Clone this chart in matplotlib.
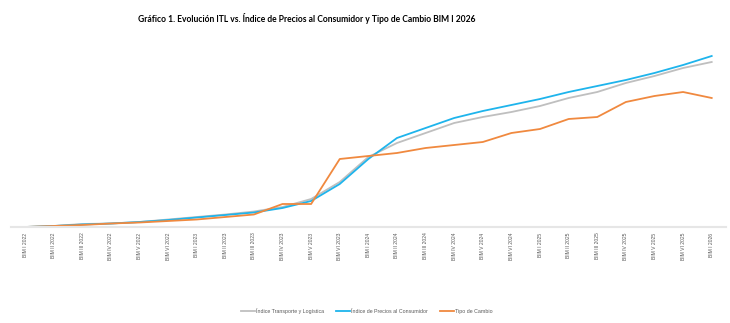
import matplotlib
matplotlib.use("Agg")
import matplotlib.pyplot as plt

categories = ["BIM I 2022", "BIM II 2022", "BIM III 2022", "BIM IV 2022", "BIM V 2022", "BIM VI 2022",
              "BIM I 2023", "BIM II 2023", "BIM III 2023", "BIM IV 2023", "BIM V 2023", "BIM VI 2023",
              "BIM I 2024", "BIM II 2024", "BIM III 2024", "BIM IV 2024", "BIM V 2024", "BIM VI 2024",
              "BIM I 2025", "BIM II 2025", "BIM III 2025", "BIM IV 2025", "BIM V 2025", "BIM VI 2025",
              "BIM I 2026"]

itl = [0, 1, 3, 3.5, 5, 7.5, 10, 12.5, 15.5, 20, 28, 45, 70, 84, 94, 104, 110, 115, 121, 129, 135, 144, 151, 159, 165]
ipc = [0, 1, 2.5, 3.5, 5, 7, 9.5, 12, 14.5, 19, 26, 43, 68, 89, 99, 109, 116, 122, 128, 135, 141, 147, 154, 162, 171]
tc = [0, 1, 2, 3.5, 4.5, 6, 7.5, 10, 12.5, 23, 23, 68, 71, 74, 79, 82, 85, 94, 98, 108, 110, 125, 131, 135, 129]

title = "Gráfico 1. Evolución ITL vs. Índice de Precios al Consumidor y Tipo de Cambio BIM I 2026"
series_labels = ["Índice Transporte y Logística", "Índice de Precios al Consumidor", "Tipo de Cambio"]
colors = ["#BFBFBF", "#1EB4EC", "#F0893F"]

fig = plt.figure(figsize=(7.3, 3.23), dpi=100)
ax = fig.add_axes([10.7 / 730, (323 - 227) / 323, (726 - 10.7) / 730, 192 / 323])

x = list(range(len(categories)))
for vals, lab, col in zip([itl, ipc, tc], series_labels, colors):
    ax.plot(x, vals, color=col, lw=1.3, label=lab, solid_joinstyle="round")

ax.set_xlim(-0.5, len(categories) - 0.5)
ax.set_ylim(0, 192)
ax.set_xticks(x)
ax.set_xticklabels(categories, rotation=90, fontsize=3.6, color="#595959", family="Liberation Sans")
ax.tick_params(axis="x", length=0, pad=4)
ax.set_yticks([])
for s in ["top", "right", "left"]:
    ax.spines[s].set_visible(False)
ax.spines["bottom"].set_color("#E6E6E6")
ax.spines["bottom"].set_linewidth(1.5)

fig.text(307 / 730, 1 - 18 / 323, title, ha="center", va="center", fontsize=6.15,
         fontweight="bold", family="Lato", color="#000000")

leg = fig.legend(loc="center", bbox_to_anchor=(367 / 730, 1 - 311 / 323), ncol=3, frameon=False,
                 prop={"family": "Liberation Sans", "size": 3.8}, handlelength=2.6, columnspacing=2.3,
                 handletextpad=0.2)
for t in leg.get_texts():
    t.set_color("#595959")

fig.savefig("out.png", dpi=100)
